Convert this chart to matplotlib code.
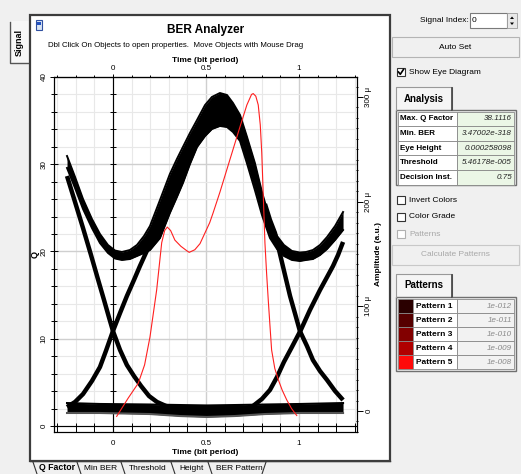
import matplotlib
matplotlib.use('Agg')
import matplotlib.pyplot as plt
from matplotlib.patches import Rectangle, Polygon
from matplotlib.ticker import MultipleLocator, FixedLocator, FixedFormatter

plt.rcParams['font.family'] = ['Liberation Sans', 'DejaVu Sans']

# ---------------- data ----------------
# Q factor vs time (red curve)
q_t = [0.02, 0.082, 0.136, 0.17, 0.199, 0.235, 0.262, 0.278, 0.292, 0.31, 0.333, 0.365,
       0.396, 0.41, 0.44, 0.468, 0.52, 0.538, 0.575, 0.611, 0.647, 0.683, 0.72, 0.745,
       0.754, 0.768, 0.781, 0.792, 0.80, 0.808, 0.817, 0.826, 0.835, 0.845, 0.853, 0.87,
       0.889, 0.91, 0.934, 0.96, 0.988]
q_val = [1.1, 3.2, 4.9, 7.0, 10.2, 15.6, 21.0, 22.4, 22.8, 22.4, 21.3, 20.6,
         20.1, 19.9, 20.2, 20.9, 23.3, 24.4, 26.8, 29.3, 31.8, 34.3, 36.8, 38.0,
         38.1, 37.8, 36.8, 34.5, 31.3, 26.5, 21.0, 17.5, 14.4, 11.2, 8.7, 6.6,
         5.3, 4.1, 3.0, 2.0, 1.2]

# eye diagram, amplitude in micro units
ones_t = [-0.247, -0.204, -0.161, -0.113, -0.070, -0.027, 0.011, 0.048, 0.091, 0.129,
          0.167, 0.199, 0.253, 0.306, 0.344, 0.376, 0.414, 0.452, 0.495, 0.532, 0.575,
          0.613, 0.645, 0.683, 0.720, 0.763, 0.801, 0.844, 0.882, 0.919, 0.962, 1.005,
          1.038, 1.075, 1.113, 1.151, 1.194, 1.237]
ones_top = [243.6, 223.6, 202.5, 183.4, 169.1, 158.6, 153.3, 151.9, 153.8, 158.6,
            167.2, 176.7, 201.6, 226.4, 240.8, 252.2, 265.6, 278.0, 292.3, 300.0, 303.8,
            301.9, 294.3, 282.8, 262.2, 236.9, 209.2, 182.5, 167.2, 158.6, 152.9, 151.4,
            151.9, 153.8, 158.6, 166.2, 176.7, 190.1]
ones_bot = [232.2, 213.1, 193.0, 174.8, 160.5, 151.0, 145.7, 144.3, 145.2, 148.1,
            151.0, 153.8, 165.3, 189.2, 204.5, 217.8, 236.0, 252.2, 262.7, 269.4, 272.3,
            271.3, 266.6, 258.0, 236.9, 211.1, 187.3, 165.3, 154.8, 148.1, 144.3, 143.3,
            144.3, 145.2, 149.0, 154.8, 163.4, 172.9]

fall_l_t = [-0.247, -0.204, -0.161, -0.118, -0.081, -0.048, -0.022, 0.0, 0.038, 0.075,
            0.113, 0.151, 0.194, 0.237, 0.285, 0.339]
fall_l_a = [224.5, 199.7, 174.8, 149.0, 126.1, 106.0, 89.8, 76.4, 58.3, 43.9,
            33.4, 23.9, 14.3, 8.6, 4.8, 2.9]

rise_l_t = [-0.247, -0.204, -0.161, -0.113, -0.070, -0.038, 0.0, 0.038, 0.075, 0.113,
            0.145, 0.177, 0.210, 0.242]
rise_l_a = [3.8, 8.6, 16.2, 28.7, 42.0, 57.3, 76.4, 93.6, 109.9, 125.2,
            138.5, 151.0, 163.4, 176.7]

fall_r_t = [0.817, 0.844, 0.871, 0.898, 0.925, 0.952, 0.978, 1.005, 1.043, 1.075,
            1.113, 1.151, 1.194, 1.237]
fall_r_a = [197.8, 182.5, 170.0, 150.0, 129.9, 109.9, 93.6, 76.4, 62.1, 48.7,
            38.2, 29.6, 19.1, 10.5]

rise_r_t = [0.656, 0.710, 0.753, 0.801, 0.844, 0.882, 0.919, 0.962, 1.010, 1.059,
            1.113, 1.151, 1.183, 1.210, 1.237]
rise_r_a = [1.9, 2.4, 4.8, 11.5, 20.1, 32.5, 46.8, 61.1, 77.4, 96.5,
            115.6, 128.0, 138.5, 149.0, 161.5]

zero_t = [-0.247, -0.070, 0.199, 0.360, 0.505, 0.656, 0.817, 1.005, 1.237]
zero_top = [7.6, 6.7, 6.2, 5.7, 5.3, 5.7, 6.2, 6.7, 7.6]
zero_bot = [-1.9, -1.9, -2.9, -4.8, -5.7, -4.8, -2.9, -1.9, -1.9]

time_ticks = [0, 0.5, 1]
time_labels = ['0', '0.5', '1']
q_ticks = [0, 10, 20, 30, 40]
amp_ticks = [0, 100, 200, 300]
amp_labels = ['0', '100 \u03bc', '200 \u03bc', '300 \u03bc']

analysis_labels = ['Max. Q Factor', 'Min. BER', 'Eye Height', 'Threshold', 'Decision Inst.']
analysis_values = ['38.1116', '3.47002e-318', '0.000258098', '5.46178e-005', '0.75']
pattern_labels = ['Pattern 1', 'Pattern 2', 'Pattern 3', 'Pattern 4', 'Pattern 5']
pattern_values = ['1e-012', '1e-011', '1e-010', '1e-009', '1e-008']
pattern_colors = ['#2a0000', '#560000', '#820000', '#b00000', '#ff0a0a']
tab_labels = ['Q Factor', 'Min BER', 'Threshold', 'Height', 'BER Pattern']

# ---------------- figure ----------------
W, H = 521, 474
fig = plt.figure(figsize=(W / 100, H / 100), dpi=100)
fig.patch.set_facecolor('#f0f0f0')

ui = fig.add_axes([0, 0, 1, 1])
ui.set_xlim(0, W)
ui.set_ylim(H, 0)
ui.axis('off')


def rect(x0, y0, x1, y1, fc='none', ec='none', lw=1.0, z=1):
    ui.add_patch(Rectangle((x0, y0), x1 - x0, y1 - y0, facecolor=fc, edgecolor=ec, lw=lw, zorder=z))


def txt(x, y, s, size=6, weight='normal', style='normal', ha='left', color='black', rot=0):
    ui.text(x, y, s, fontsize=size, fontweight=weight, fontstyle=style, ha=ha, va='center',
            color=color, rotation=rot)


def checkbox(x, y, checked=False, enabled=True):
    ec = '#333333' if enabled else '#b0b0b0'
    rect(x, y - 4, x + 8, y + 4, fc='white', ec=ec, lw=0.8)
    if checked:
        ui.plot([x + 1.5, x + 3.3, x + 6.5], [y, y + 2.3, y - 2.6], color='black', lw=1.2)


# left "Signal" tab
rect(9, 21, 29, 64, fc='#f7f7f7', ec='none')
ui.plot([10, 10, 28], [22, 63, 63], color='#555555', lw=1.0)
txt(19, 42, 'Signal', size=6.5, weight='bold', ha='center', rot=90)

# main white panel
rect(30, 15, 390, 461, fc='white', ec='#3c3c3c', lw=1.6)
rect(36, 20, 42, 30, fc='#d8e4f4', ec='#3050a0', lw=0.8, z=2)
rect(37, 22, 41, 25, fc='#2050c0', ec='none', z=3)
txt(206, 30, 'BER Analyzer', size=8.6, weight='bold', ha='center')
txt(48, 45, 'Dbl Click On Objects to open properties.  Move Objects with Mouse Drag', size=5.7)

# bottom tabs
ui.plot([30, 390], [461, 461], color='#3c3c3c', lw=1.0)
tab_x = [(33, 77), (77, 121), (121, 171), (171, 208), (208, 266)]
for i, (lab, (xa, xb)) in enumerate(zip(tab_labels, tab_x)):
    ui.plot([xa, xa + 4], [462, 474], color='#333333', lw=0.8)
    if i == len(tab_labels) - 1:
        ui.plot([xb - 4, xb], [474, 462], color='#333333', lw=0.8)
    txt((xa + xb) / 2 + 2, 468, lab, size=6.3 if i == 0 else 6,
        weight='bold' if i == 0 else 'normal', ha='center')

# ---------------- right panel ----------------
txt(469, 20, 'Signal Index:', size=6, ha='right')
rect(470, 13, 507, 28, fc='white', ec='#7a7a7a', lw=0.8)
txt(472, 20, '0', size=6)
rect(507, 13, 517, 28, fc='#e8e8e8', ec='#9a9a9a', lw=0.6)
ui.add_patch(Polygon([[510, 19], [514, 19], [512, 16.5]], closed=True, fc='black', ec='none', zorder=3))
ui.add_patch(Polygon([[510, 22.5], [514, 22.5], [512, 25]], closed=True, fc='black', ec='none', zorder=3))

rect(392, 37, 519, 57, fc='#f0f0f0', ec='#b4b4b4', lw=0.8)
txt(455.5, 47, 'Auto Set', size=6, ha='center')

checkbox(397, 72, checked=True)
txt(409, 72, 'Show Eye Diagram', size=6)

# Analysis tab + table
rect(396, 87, 452, 110, fc='#f5f5f5', ec='none')
ui.plot([396, 396, 452, 452], [110, 87, 87, 110], color='#999999', lw=0.8)
ui.plot([452, 452], [88, 110], color='#404040', lw=1.2)
txt(424, 99, 'Analysis', size=7, weight='bold', ha='center')
rect(396, 110, 516, 185, fc='#f0f0f0', ec='#707070', lw=1.0)
row_h = 14.6
for i, (lab, val) in enumerate(zip(analysis_labels, analysis_values)):
    y0 = 111.5 + i * row_h
    rect(398, y0, 457, y0 + row_h, fc='white', ec='#888888', lw=0.6)
    rect(457, y0, 514, y0 + row_h, fc='#ebf6e6', ec='#888888', lw=0.6)
    txt(400, y0 + row_h / 2, lab, size=5.8, weight='bold')
    txt(512, y0 + row_h / 2, val, size=5.8, style='italic', ha='right', color='#222222')

checkbox(397, 200)
txt(409, 200, 'Invert Colors', size=6)
checkbox(397, 217)
txt(409, 217, 'Color Grade', size=6)
checkbox(397, 234, enabled=False)
txt(409, 234, 'Patterns', size=6, color='#a8a8a8')

rect(392, 245, 519, 265, fc='#f0f0f0', ec='#c8c8c8', lw=0.8)
txt(455.5, 255, 'Calculate Patterns', size=6, ha='center', color='#a8a8a8')

# Patterns tab + table
rect(396, 274, 452, 297, fc='#f5f5f5', ec='none')
ui.plot([396, 396, 452, 452], [297, 274, 274, 297], color='#999999', lw=0.8)
ui.plot([452, 452], [275, 297], color='#404040', lw=1.2)
txt(424, 285.5, 'Patterns', size=7, weight='bold', ha='center')
rect(396, 297, 516, 371, fc='#f0f0f0', ec='#707070', lw=1.0)
prow_h = 14.0
for i, (lab, val, col) in enumerate(zip(pattern_labels, pattern_values, pattern_colors)):
    y0 = 299 + i * prow_h
    rect(398, y0, 413, y0 + prow_h, fc=col, ec='#888888', lw=0.6)
    rect(413, y0, 457, y0 + prow_h, fc='white', ec='#888888', lw=0.6)
    rect(457, y0, 514, y0 + prow_h, fc='#f2f2f2', ec='#888888', lw=0.6)
    txt(416, y0 + prow_h / 2, lab, size=6, weight='bold')
    txt(512, y0 + prow_h / 2, val, size=5.8, style='italic', ha='right', color='#8a8a8a')

# ---------------- chart ----------------
left, right, top, bottom = 54, 357, 77, 432
ax_q = fig.add_axes([left / W, 1 - bottom / H, (right - left) / W, (bottom - top) / H])
ax_q.set_facecolor('white')
ax_q.set_xlim(-0.317, 1.312)
ax_q.set_ylim(-0.69, 40.0)

# grid
ax_q.xaxis.set_minor_locator(MultipleLocator(0.1))
ax_q.yaxis.set_minor_locator(MultipleLocator(2))
ax_q.xaxis.set_major_locator(FixedLocator(time_ticks))
ax_q.yaxis.set_major_locator(FixedLocator(q_ticks))
ax_q.grid(which='minor', color='#e8e8e8', lw=0.8)
ax_q.grid(which='major', color='#cfcfcf', lw=1.0)
ax_q.set_axisbelow(True)

ax_q.xaxis.set_major_formatter(FixedFormatter(time_labels))
ax_q.tick_params(axis='x', which='major', direction='in', length=4, labelsize=5.8, pad=6, width=0.7)
ax_q.tick_params(axis='x', which='minor', direction='in', length=4, width=0.7)
ax_q.tick_params(axis='y', which='major', direction='inout', length=6, labelsize=5.8, pad=1.5, width=0.7)
ax_q.tick_params(axis='y', which='minor', direction='inout', length=4, width=0.7)
for lbl in ax_q.get_yticklabels():
    lbl.set_rotation(90)
    lbl.set_va('center')
ax_q.set_xlabel('Time (bit period)', fontsize=6, fontweight='bold', labelpad=1)
ax_q.set_ylabel('Q', fontsize=6.5, fontweight='bold', labelpad=1)
for s in ax_q.spines.values():
    s.set_linewidth(0.8)

# zero axes inside the plot
ax_q.axvline(0, color='black', lw=0.8, zorder=1.5)
ax_q.axhline(0, color='black', lw=0.8, zorder=1.5)
ax_q.plot([0] * 21, list(range(0, 41, 2)), ls='none', marker='_', ms=4, mew=0.7, color='black', zorder=1.6)
tick_t = [round(-0.3 + 0.1 * k, 2) for k in range(17)]
ax_q.plot(tick_t, [0] * len(tick_t), ls='none', marker='|', ms=4, mew=0.7, color='black', zorder=1.6)

sec = ax_q.secondary_xaxis('top')
sec.set_xticks(time_ticks)
sec.set_xticklabels(time_labels)
sec.xaxis.set_minor_locator(MultipleLocator(0.1))
sec.tick_params(axis='x', which='major', direction='inout', length=5, labelsize=5.8, pad=1, width=0.7)
sec.tick_params(axis='x', which='minor', direction='inout', length=3, width=0.7)
sec.set_xlabel('Time (bit period)', fontsize=6, fontweight='bold', labelpad=2.5)

# eye diagram on amplitude axis
ax_a = ax_q.twinx()
ax_a.set_ylim(-20.06, 319.1)
ax_a.yaxis.set_major_locator(FixedLocator(amp_ticks))
ax_a.yaxis.set_major_formatter(FixedFormatter(amp_labels))
ax_a.yaxis.set_minor_locator(MultipleLocator(10))
ax_a.tick_params(axis='y', which='major', direction='out', length=4, labelsize=5.8, pad=2, width=0.7)
ax_a.tick_params(axis='y', which='minor', direction='inout', length=2, width=0.7)
for lbl in ax_a.get_yticklabels():
    lbl.set_rotation(90)
    lbl.set_va('center')
ax_a.set_ylabel('Amplitude (a.u.)', fontsize=6, fontweight='bold', labelpad=2)

ax_a.fill_between(zero_t, zero_bot, zero_top, color='black', lw=0)
ax_a.plot(zero_t, zero_top, color='black', lw=1.5)
ax_a.plot(zero_t, zero_bot, color='#555555', lw=1.5)
ax_a.fill_between(ones_t, ones_bot, ones_top, color='black', lw=0)
ax_a.plot(ones_t, ones_top, color='black', lw=1.4)
ax_a.plot(ones_t, ones_bot, color='black', lw=1.4)
for tt, aa in [(fall_l_t, fall_l_a), (rise_l_t, rise_l_a), (fall_r_t, fall_r_a), (rise_r_t, rise_r_a)]:
    ax_a.plot(tt, aa, color='black', lw=3.2, solid_capstyle='butt')

# red Q curve on top
ax_r = ax_q.twinx()
ax_r.set_ylim(ax_q.get_ylim())
ax_r.axis('off')
ax_r.plot(q_t, q_val, color='#ff2020', lw=0.8)

fig.savefig('out.png', dpi=100, facecolor=fig.get_facecolor())
